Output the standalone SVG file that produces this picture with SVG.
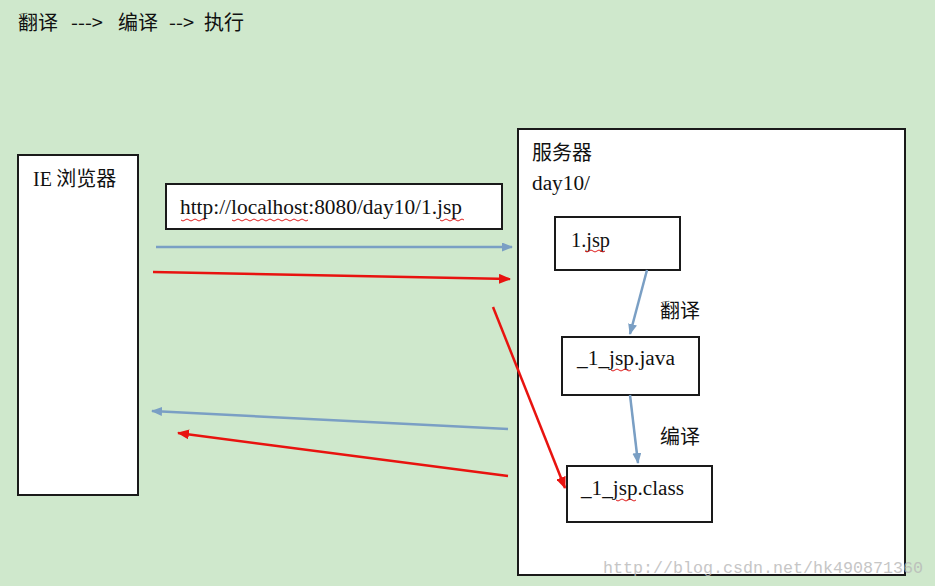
<svg xmlns="http://www.w3.org/2000/svg" width="935" height="586" viewBox="0 0 935 586">
<defs>
<marker id="ab" markerWidth="11" markerHeight="9" refX="10" refY="4.5" orient="auto" markerUnits="userSpaceOnUse"><path d="M0,0 L11,4.5 L0,9 Z" fill="#7a9fc4"/></marker>
<marker id="ar" markerWidth="12" markerHeight="10" refX="11" refY="5" orient="auto" markerUnits="userSpaceOnUse"><path d="M0,0 L12,5 L0,10 Z" fill="#e8130f"/></marker>
<style>
.box{fill:#fff;stroke:#1a1a1a;stroke-width:2}
.cn{font-family:"Noto Sans CJK SC","Noto Sans",sans-serif;font-size:20px;fill:#111}
.se{font-family:"Liberation Serif",serif;font-size:20px;fill:#111}
.b{stroke:#7a9fc4;stroke-width:2.5;fill:none;marker-end:url(#ab)}
.r{stroke:#e8130f;stroke-width:2.5;fill:none;marker-end:url(#ar)}
.sq{stroke:#e02020;stroke-width:1;fill:none}
</style>
</defs>
<rect width="935" height="586" fill="#cfe8cc"/>
<text class="cn" y="30"><tspan x="18">翻译</tspan><tspan x="71">---&gt;</tspan><tspan x="118">编译</tspan><tspan x="169">--&gt;</tspan><tspan x="204">执行</tspan></text>
<g id="browser"><rect class="box" x="18" y="155" width="120" height="340"/><text class="cn" x="33" y="186"><tspan font-family="Liberation Serif, serif">IE</tspan> 浏览器</text></g>
<g id="url"><rect class="box" x="166" y="184" width="336" height="45"/><text class="se" x="180" y="214" font-size="21" textLength="282" lengthAdjust="spacingAndGlyphs">http://localhost:8080/day10/1.jsp</text>
<path class="sq" d="M181,220 q2,2 4,0 t4,0 t4,0 t4,0 t4,0 t4,0 M232,220 q2,2 4,0 t4,0 t4,0 t4,0 t4,0 t4,0 t4,0 t4,0 t4,0 t4,0 t4,0 t4,0 t4,0 t4,0 t4,0 t4,0 t4,0 t4,0 t4,0 M440,220 q2,2 4,0 t4,0 t4,0 t4,0 t4,0 t4,0"/></g>
<g id="server"><rect class="box" x="518" y="129" width="387" height="446"/><text class="cn" x="532" y="160" font-size="21">服务器</text><text class="se" x="532" y="190" textLength="58" lengthAdjust="spacingAndGlyphs">day10/</text></g>
<g id="jsp"><rect class="box" x="555" y="217" width="125" height="53"/><text class="se" x="571" y="247" textLength="39" lengthAdjust="spacingAndGlyphs">1.jsp</text><path class="sq" d="M585,251 q2,2 4,0 t4,0 t4,0 t4,0 t4,0"/></g>
<g id="java"><rect class="box" x="562" y="337" width="137" height="58"/><text class="se" x="577" y="365" textLength="98" lengthAdjust="spacingAndGlyphs">_1_jsp.java</text><path class="sq" d="M611,370 q2,2 4,0 t4,0 t4,0 t4,0 t4,0"/></g>
<g id="class"><rect class="box" x="567" y="466" width="145" height="56"/><text class="se" x="581" y="495" textLength="103" lengthAdjust="spacingAndGlyphs">_1_jsp.class</text><path class="sq" d="M616,500 q2,2 4,0 t4,0 t4,0 t4,0 t4,0"/></g>
<text class="cn" x="660" y="318">翻译</text>
<text class="cn" x="660" y="444">编译</text>
<g id="connectors">
<line class="b" x1="156" y1="247" x2="512" y2="247"/>
<line class="r" x1="153" y1="272" x2="510" y2="279"/>
<line class="r" x1="493" y1="307" x2="565" y2="488"/>
<line class="b" x1="647" y1="270" x2="630" y2="334"/>
<line class="b" x1="630" y1="395" x2="638" y2="463"/>
<line class="b" x1="508" y1="429" x2="152" y2="411"/>
<line class="r" x1="508" y1="476" x2="178" y2="433"/>
</g>
<text x="603" y="573" font-family="Liberation Mono, monospace" font-size="17" fill="#b8b8b8" opacity="0.8" textLength="320" lengthAdjust="spacingAndGlyphs">http://blog.csdn.net/hk490871360</text>
</svg>
